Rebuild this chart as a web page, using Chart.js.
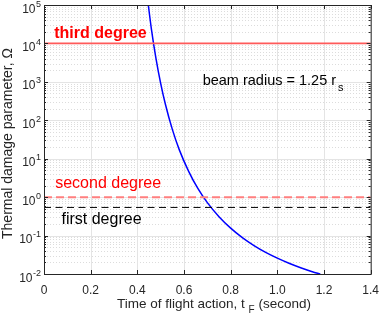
<!DOCTYPE html>
<html>
<head>
<meta charset="utf-8">
<script src="https://cdn.jsdelivr.net/npm/chart.js@4.4.1/dist/chart.umd.min.js"></script>
<style>
html, body { margin: 0; padding: 0; background: #fff; }
canvas { display: block; }
</style>
</head>
<body>
<canvas id="thermalChart" width="388" height="316"></canvas>
<script>
// curve: time of flight (s) vs thermal damage parameter
var flightTime = [0.447, 0.46, 0.48, 0.50, 0.52, 0.55, 0.58, 0.62, 0.66, 0.70, 0.75, 0.80, 0.85, 0.90, 0.95, 1.00, 1.05, 1.10, 1.15, 1.184];
var damage = [100000, 24400, 4030, 915, 265, 58, 17, 4.7, 1.66, 0.72, 0.31, 0.156, 0.0885, 0.055, 0.0366, 0.0259, 0.0191, 0.0146, 0.0115, 0.01];

// burn thresholds
var thresholdNames = ["third degree", "second degree", "first degree"];
var thresholdLevels = [10000, 1, 0.54];

var xTicks = [0, 0.2, 0.4, 0.6, 0.8, 1, 1.2, 1.4];
var yDecades = [-2, -1, 0, 1, 2, 3, 4, 5];
var beamNote = "beam radius = 1.25 r";

var FONT = '"Liberation Sans", Arial, Helvetica, sans-serif';
var INK = '#262626';

function hline(level) {
  return [{x: xTicks[0], y: level}, {x: xTicks[xTicks.length - 1], y: level}];
}

var decor = {
  id: 'decor',
  beforeDatasetsDraw: function(chart) {
    var ctx = chart.ctx, a = chart.chartArea, x = chart.scales.x, y = chart.scales.y;
    ctx.save();
    ctx.lineWidth = 1;
    // minor dotted grid on log axis
    ctx.strokeStyle = '#dcdcdc';
    ctx.setLineDash([1, 2]);
    yDecades.slice(0, -1).forEach(function(d) {
      for (var m = 2; m <= 9; m++) {
        var py = Math.round(y.getPixelForValue(m * Math.pow(10, d))) + 0.5;
        ctx.beginPath(); ctx.moveTo(a.left, py); ctx.lineTo(a.right, py); ctx.stroke();
      }
    });
    // major grid
    ctx.setLineDash([]);
    ctx.strokeStyle = '#e4e4e4';
    yDecades.forEach(function(d) {
      var py = Math.round(y.getPixelForValue(Math.pow(10, d))) + 0.5;
      ctx.beginPath(); ctx.moveTo(a.left, py); ctx.lineTo(a.right, py); ctx.stroke();
    });
    xTicks.forEach(function(v) {
      var px = Math.round(x.getPixelForValue(v)) + 0.5;
      ctx.beginPath(); ctx.moveTo(px, a.top); ctx.lineTo(px, a.bottom); ctx.stroke();
    });
    ctx.restore();
  },
  afterDatasetsDraw: function(chart) {
    var ctx = chart.ctx, a = chart.chartArea, x = chart.scales.x, y = chart.scales.y;
    ctx.save();
    // box and inward ticks
    ctx.strokeStyle = INK;
    ctx.lineWidth = 1;
    ctx.strokeRect(a.left + 0.5, a.top + 0.5, a.right - a.left, a.bottom - a.top);
    ctx.beginPath();
    xTicks.forEach(function(v) {
      var px = Math.round(x.getPixelForValue(v)) + 0.5;
      ctx.moveTo(px, a.bottom); ctx.lineTo(px, a.bottom - 4);
      ctx.moveTo(px, a.top); ctx.lineTo(px, a.top + 4);
    });
    yDecades.forEach(function(d) {
      var py = Math.round(y.getPixelForValue(Math.pow(10, d))) + 0.5;
      ctx.moveTo(a.left, py); ctx.lineTo(a.left + 4, py);
      ctx.moveTo(a.right, py); ctx.lineTo(a.right - 4, py);
      if (d < 5) {
        for (var m = 2; m <= 9; m++) {
          var pm = Math.round(y.getPixelForValue(m * Math.pow(10, d))) + 0.5;
          ctx.moveTo(a.left, pm); ctx.lineTo(a.left + 2, pm);
          ctx.moveTo(a.right, pm); ctx.lineTo(a.right - 2, pm);
        }
      }
    });
    ctx.stroke();

    // y tick labels 10^n
    ctx.fillStyle = INK;
    ctx.textBaseline = 'alphabetic';
    yDecades.forEach(function(d) {
      var py = y.getPixelForValue(Math.pow(10, d));
      var ex = String(d);
      ctx.font = '9px ' + FONT;
      var ew = ctx.measureText(ex).width;
      var exLeft = a.left - 3 - ew;
      ctx.textAlign = 'left';
      ctx.fillText(ex, exLeft, py + 1.5);
      ctx.font = '12px ' + FONT;
      ctx.textAlign = 'right';
      ctx.fillText('10', exLeft - 0.5, py + 7.5);
    });

    // threshold labels
    ctx.textAlign = 'left';
    ctx.font = 'bold 16px ' + FONT;
    ctx.fillStyle = '#ff0000';
    ctx.fillText(thresholdNames[0], x.getPixelForValue(0.044), y.getPixelForValue(thresholdLevels[0]) - 5);
    ctx.font = '16px ' + FONT;
    ctx.fillText(thresholdNames[1], x.getPixelForValue(0.048), y.getPixelForValue(thresholdLevels[1]) - 9);
    ctx.fillStyle = '#000000';
    ctx.fillText(thresholdNames[2], x.getPixelForValue(0.075), y.getPixelForValue(thresholdLevels[2]) + 17);

    // beam radius note with subscript
    ctx.font = '14.5px ' + FONT;
    var bx = x.getPixelForValue(0.68), by = y.getPixelForValue(830);
    ctx.fillText(beamNote, bx, by);
    var bw = ctx.measureText(beamNote).width;
    ctx.font = '11px ' + FONT;
    ctx.fillText('s', bx + bw + 2, by + 6);

    // x axis title with subscript
    ctx.fillStyle = INK;
    ctx.font = '13.5px ' + FONT;
    var p1 = 'Time of flight action, t ', p3 = ' (second)';
    var w1 = ctx.measureText(p1).width, w3 = ctx.measureText(p3).width;
    ctx.font = '10px ' + FONT;
    var w2 = ctx.measureText('F').width;
    var tx = 214 - (w1 + w2 + w3) / 2, ty = 307.5;
    ctx.font = '13.5px ' + FONT;
    ctx.fillText(p1, tx, ty);
    ctx.font = '10px ' + FONT;
    ctx.fillText('F', tx + w1, ty + 5);
    ctx.font = '13.5px ' + FONT;
    ctx.fillText(p3, tx + w1 + w2, ty);

    // y axis title
    ctx.translate(8.5, (a.top + a.bottom) / 2 + 4);
    ctx.rotate(-Math.PI / 2);
    ctx.textAlign = 'center';
    ctx.textBaseline = 'middle';
    ctx.font = '14px ' + FONT;
    ctx.fillText('Thermal damage parameter, \u03A9', 0, 0);
    ctx.restore();
  }
};

var ctxT = document.getElementById('thermalChart').getContext('2d');
var thermalChart = new Chart(ctxT, {
  type: 'line',
  data: {
    datasets: [{
      label: 'second degree',
      data: hline(thresholdLevels[1]),
      borderColor: '#ff7f7f',
      borderWidth: 2,
      borderDash: [8, 4],
      pointRadius: 0
    }, {
      label: 'first degree',
      data: hline(thresholdLevels[2]),
      borderColor: '#000000',
      borderWidth: 1,
      borderDash: [7, 4.5],
      pointRadius: 0
    }, {
      label: 'third degree',
      data: hline(thresholdLevels[0]),
      borderColor: '#ff5a5a',
      borderWidth: 1.8,
      pointRadius: 0
    }, {
      label: 'Omega',
      data: flightTime.map(function(t, i) { return {x: t, y: damage[i]}; }),
      borderColor: '#0000ff',
      borderWidth: 1.5,
      pointRadius: 0,
      cubicInterpolationMode: 'monotone'
    }]
  },
  options: {
    responsive: false,
    animation: false,
    layout: { padding: { top: 5, right: 8, left: 0, bottom: 0 } },
    plugins: { legend: { display: false }, tooltip: { enabled: false } },
    scales: {
      x: {
        type: 'linear',
        min: 0,
        max: 1.4,
        grid: { display: false, drawTicks: false },
        border: { display: false },
        afterBuildTicks: function(scale) {
          scale.ticks = xTicks.map(function(v) { return {value: v}; });
        },
        ticks: {
          padding: 9,
          maxRotation: 0,
          autoSkip: false,
          color: INK,
          font: { family: FONT, size: 12 }
        },
        afterFit: function(scale) { scale.height = 42; }
      },
      y: {
        type: 'logarithmic',
        min: 0.01,
        max: 100000,
        grid: { display: false, drawTicks: false },
        border: { display: false },
        ticks: { display: false },
        afterFit: function(scale) { scale.width = 44; }
      }
    }
  },
  plugins: [decor]
});
</script>
</body>
</html>
